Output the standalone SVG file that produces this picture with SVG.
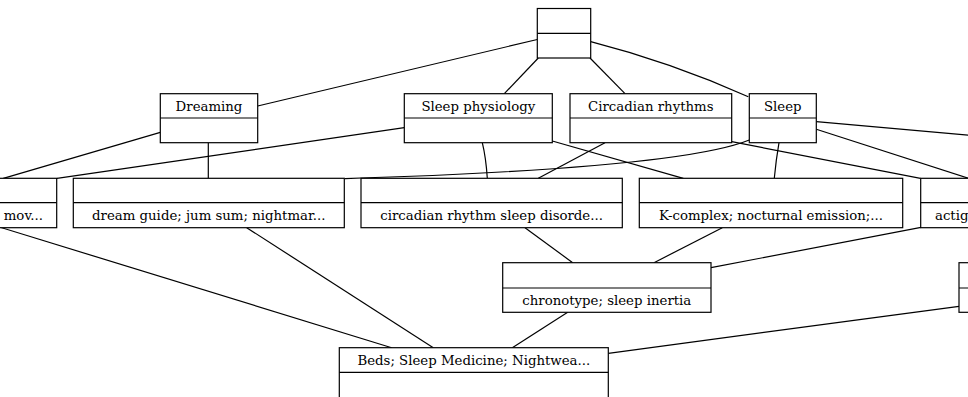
<svg xmlns="http://www.w3.org/2000/svg" width="968" height="397" viewBox="0 0 968 397">
  <style>
    .box { fill: #ffffff; stroke: #000000; stroke-width: 1.2; }
    .div { stroke: #000000; stroke-width: 1.2; }
    .lbl { font-family: "DejaVu Serif", "Liberation Serif", serif; font-size: 13.3px; fill: #000000; text-anchor: middle; }
    .edges path { fill: none; stroke: #000000; stroke-width: 1.2; }
  </style>
  <rect x="0" y="0" width="968" height="397" fill="#ffffff"/>

  <!-- connectors -->
  <g class="edges" id="edges">
    <path d="M537.3,39.5 L257.7,106"/>
    <path d="M538.3,58 L504.3,93.7"/>
    <path d="M590,58 L625,93.7"/>
    <path d="M590.7,41.7 Q670,62 748.3,96.7"/>
    <path d="M160.3,132.3 L3.3,178.3"/>
    <path d="M208.3,142.7 L208.3,178.3"/>
    <path d="M404.3,127.7 L57,178.3"/>
    <path d="M482.3,142.7 Q486,158 487.3,178.3"/>
    <path d="M605,142.7 L538.3,178.3"/>
    <path d="M552.3,141 L683.3,178.3"/>
    <path d="M731.7,141.7 L920.5,178.3"/>
    <path d="M749.3,140 C700,160 560,172 345,178.6"/>
    <path d="M779,142.7 Q776,160 774.3,178.3"/>
    <path d="M816.3,129.3 L980,182"/>
    <path d="M816.3,121.7 L1000,138"/>
    <path d="M525,227.7 L572.7,262.7"/>
    <path d="M722.3,227.7 L654,262.7"/>
    <path d="M921,227.3 L711,267.7"/>
    <path d="M0,227.2 L391.7,347.7"/>
    <path d="M246.7,227.7 L433.3,347.7"/>
    <path d="M567.7,312.3 L512.3,347.7"/>
    <path d="M959,306.3 L608.3,353.3"/>
  </g>

  <!-- root concept -->
  <g id="n-top">
    <rect class="box" x="537.3" y="8.5" width="53.4" height="49.5"/>
    <line class="div" x1="537.3" y1="33.3" x2="590.7" y2="33.3"/>
  </g>

  <g id="n-dreaming">
    <rect class="box" x="160.3" y="93.7" width="97.4" height="49"/>
    <line class="div" x1="160.3" y1="118" x2="257.7" y2="118"/>
    <text class="lbl" x="209" y="110.6">Dreaming</text>
  </g>

  <g id="n-sleep-physiology">
    <rect class="box" x="404.3" y="93.7" width="148" height="49"/>
    <line class="div" x1="404.3" y1="118" x2="552.3" y2="118"/>
    <text class="lbl" x="478.3" y="110.6">Sleep physiology</text>
  </g>

  <g id="n-circadian-rhythms">
    <rect class="box" x="570" y="93.7" width="161.7" height="49"/>
    <line class="div" x1="570" y1="118" x2="731.7" y2="118"/>
    <text class="lbl" x="650.8" y="110.6">Circadian rhythms</text>
  </g>

  <g id="n-sleep">
    <rect class="box" x="749.3" y="93.7" width="67" height="49"/>
    <line class="div" x1="749.3" y1="118" x2="816.3" y2="118"/>
    <text class="lbl" x="782.8" y="110.6">Sleep</text>
  </g>

  <g id="n-mov">
    <rect class="box" x="-60" y="178.3" width="116.7" height="49.4"/>
    <line class="div" x1="-60" y1="202.7" x2="56.7" y2="202.7"/>
    <text class="lbl" x="43" y="220" style="text-anchor:end">mov...</text>
  </g>

  <g id="n-dream-guide">
    <rect class="box" x="73.3" y="178.3" width="271" height="49.4"/>
    <line class="div" x1="73.3" y1="202.7" x2="344.3" y2="202.7"/>
    <text class="lbl" x="208.8" y="220">dream guide; jum sum; nightmar...</text>
  </g>

  <g id="n-circadian-disorder">
    <rect class="box" x="361" y="178.3" width="261.3" height="49.4"/>
    <line class="div" x1="361" y1="202.7" x2="622.3" y2="202.7"/>
    <text class="lbl" x="491.6" y="220">circadian rhythm sleep disorde...</text>
  </g>

  <g id="n-k-complex">
    <rect class="box" x="639.3" y="178.3" width="263.4" height="49.4"/>
    <line class="div" x1="639.3" y1="202.7" x2="902.7" y2="202.7"/>
    <text class="lbl" x="771" y="220">K-complex; nocturnal emission;...</text>
  </g>

  <g id="n-actig">
    <rect class="box" x="920.7" y="178.3" width="120" height="49.4"/>
    <line class="div" x1="920.7" y1="202.7" x2="1040.7" y2="202.7"/>
    <text class="lbl" x="935" y="220" style="text-anchor:start">actig</text>
  </g>

  <g id="n-chronotype">
    <rect class="box" x="502.7" y="262.7" width="208.3" height="49.6"/>
    <line class="div" x1="502.7" y1="288" x2="711" y2="288"/>
    <text class="lbl" x="606.8" y="305">chronotype; sleep inertia</text>
  </g>

  <g id="n-right">
    <rect class="box" x="959" y="262.7" width="80" height="49.6"/>
    <line class="div" x1="959" y1="288" x2="1039" y2="288"/>
  </g>

  <g id="n-beds">
    <rect class="box" x="339.3" y="347.7" width="269" height="52"/>
    <line class="div" x1="339.3" y1="372.3" x2="608.3" y2="372.3"/>
    <text class="lbl" x="473.8" y="364.7">Beds; Sleep Medicine; Nightwea...</text>
  </g>
</svg>
